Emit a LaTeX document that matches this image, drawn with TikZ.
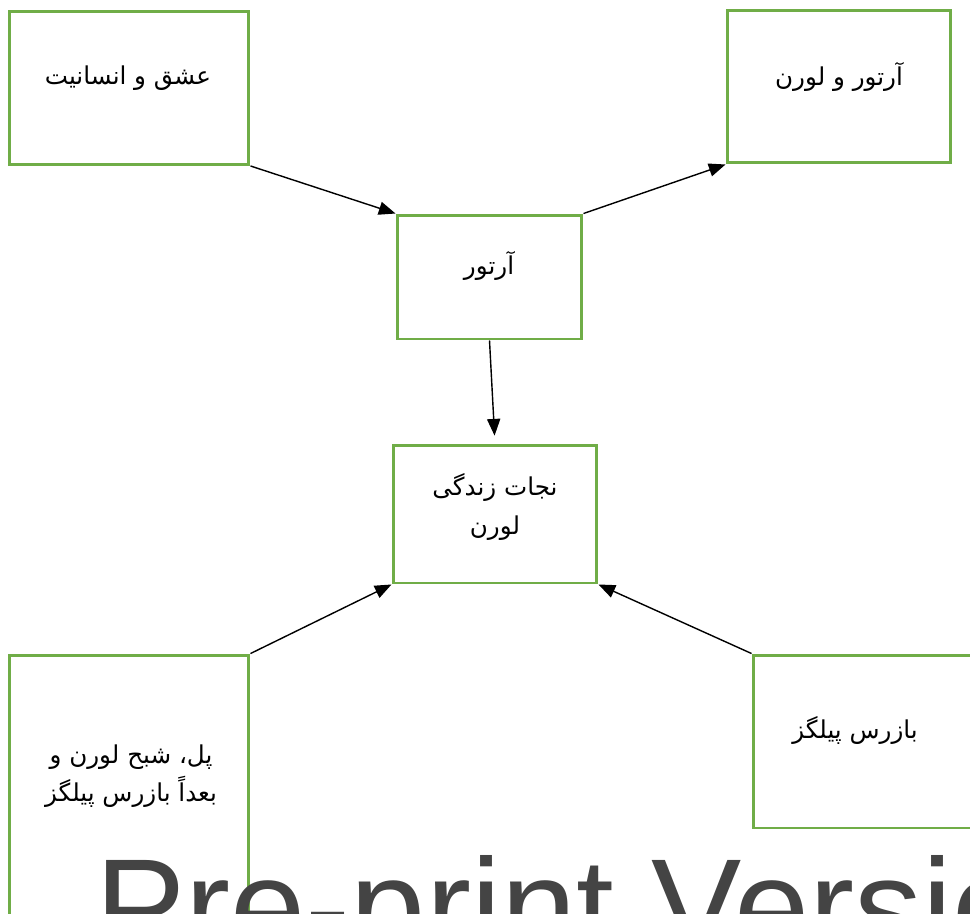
\documentclass[tikz,border=0pt]{standalone}
\usepackage{fontspec}
\newfontfamily\arabicfont[Script=Arabic]{DejaVu Sans}
\newfontfamily\wmfont{Liberation Sans}
\TeXXeTstate=1
\usepackage{tikz}
\usetikzlibrary{calc,positioning,arrows.meta}

\definecolor{boxgreen}{HTML}{70AD47}
\definecolor{wmgray}{HTML}{444444}

\begin{document}
\begin{tikzpicture}[x=0.02cm,y=-0.02cm,
		box/.style={shape=rectangle,draw=boxgreen,line width=1.7pt,fill=white,inner sep=0pt},
		txt/.style={font=\arabicfont\fontsize{14}{22}\selectfont,align=center,inner sep=0pt},
		conn/.style={draw=black,line width=0.8pt,-{Triangle[length=9.5pt,width=7.5pt]}}]
		\useasboundingbox (0,0) rectangle (970,913);
		\clip (0,0) rectangle (970,913);
		% boxes
		\node(love) at (129,88) [box,minimum width=4.8cm,minimum height=3.06cm] {};
		\node(artlor) at (839,86.5) [box,minimum width=4.48cm,minimum height=3.06cm] {};
		\node(arthur) at (489.5,277) [box,minimum width=3.7cm,minimum height=2.48cm] {};
		\node(save) at (495,514) [box,minimum width=4.08cm,minimum height=2.76cm] {};
		\node(paul) at (129,827.5) [box,minimum width=4.8cm,minimum height=6.9cm] {};
		\node(pilg) at (876.5,741.5) [box,minimum width=4.94cm,minimum height=3.46cm] {};
		% texts
		\node(lovet) at (128,78) [txt] {\beginR عشق و انسانیت\endR};
		\node(artlort) at (839,77) [txt] {\beginR آرتور و لورن\endR};
		\node(arthurt) at (489,266) [txt] {\beginR آرتور\endR};
		\node(savet) at (495,507) [txt] {\beginR نجات زندگی\endR\\\beginR لورن\endR};
		\node(pault) at (131,776) [txt] {\beginR پل، شبح لورن و\endR\\\beginR بعداً بازرس پیلگز\endR};
		\node(pilgt) at (855,730) [txt] {\beginR بازرس پیلگز\endR};
		% arrows
		\draw[conn] (love.south east) -- (arthur.north west);
		\draw[conn] (arthur.north east) -- (artlor.south west);
		\draw[conn,shorten >=4.5pt] (arthur.south) -- (save.north);
		\draw[conn] (paul.north east) -- (save.south west);
		\draw[conn] (pilg.north west) -- (save.south east);
		% watermark
		\node(wm) at (95,953) [anchor=base west,inner sep=0pt,text=wmgray,
			font=\wmfont\fontsize{77}{80}\selectfont] {Pre-print Version};
\end{tikzpicture}
\end{document}
